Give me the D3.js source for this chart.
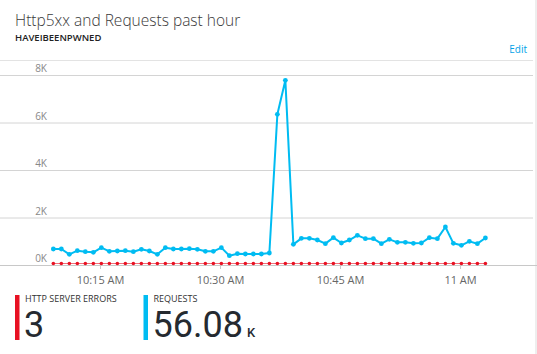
<!DOCTYPE html>
<html>
<head>
<meta charset="utf-8">
<script src="https://cdn.jsdelivr.net/npm/d3@7"></script>
<style>
  body { margin: 0; background: #fff; }
  svg { display: block; font-family: "Open Sans", "Noto Sans", sans-serif; }
</style>
</head>
<body>
<div id="chart"></div>
<script>
// requests per minute, from 10:09 to 11:03
const requests = [674, 674, 450, 603, 561, 533, 730, 575, 590, 603, 561, 660, 590, 450,
  730, 674, 674, 688, 660, 575, 575, 730, 393, 477, 463, 463, 463, 505,
  6343, 7775,
  870, 1122, 1122, 1052, 898, 1151, 926, 1052, 1249, 1108, 1108, 898, 1080, 954,
  954, 912, 926, 1151, 1108, 1600, 912, 828, 996, 898, 1137];
// http 5xx per minute
const errors = [0, 0, 0, 0, 0, 0, 0, 0, 0, 0, 0, 0, 0, 0, 0, 0, 0, 0, 0, 0, 0, 0, 1, 0, 0, 0, 0, 0,
  1, 1, 0, 0, 0, 0, 0, 0, 0, 0, 0, 0, 0, 0, 0, 0, 0, 0, 0, 0, 0, 0, 0, 0, 0, 0, 0];
const yTicks = [0, 2000, 4000, 6000, 8000];
const xTickLabels = ["10:15 AM", "10:30 AM", "10:45 AM", "11 AM"];
const summary = [
  { label: "HTTP SERVER ERRORS", value: "3", unit: "", color: "#e81123" },
  { label: "REQUESTS", value: "56.08", unit: "K", color: "#00bcf2" }
];

const W = 537, H = 354;
const start = new Date(2017, 0, 1, 10, 9, 10);
const times = requests.map((d, i) => d3.timeMinute.offset(start, i));

const svg = d3.select("#chart").append("svg")
    .attr("width", W)
    .attr("height", H);

// card right border
svg.append("rect").attr("x", 535).attr("y", 0).attr("width", 2).attr("height", H).attr("fill", "#eeeeee");

// header
svg.append("text").attr("x", 15).attr("y", 26)
    .style("font-size", "15.5px").style("font-weight", 300).attr("fill", "#3a3a3a")
    .text("Http5xx and Requests past hour");
svg.append("text").attr("x", 15).attr("y", 41)
    .style("font-size", "9.5px").style("font-weight", 600).attr("fill", "#222")
    .text("HAVEIBEENPWNED");
svg.append("text").attr("x", 527).attr("y", 53).attr("text-anchor", "end")
    .style("font-size", "10px").attr("fill", "#00a2e8")
    .text("Edit");
svg.append("line").attr("x1", 0).attr("x2", 533).attr("y1", 60.5).attr("y2", 60.5)
    .attr("stroke", "#e3e3e3");

// scales
const x = d3.scaleTime()
    .domain([new Date(2017, 0, 1, 10, 2, 30), new Date(2017, 0, 1, 11, 9, 7)])
    .range([0, 533]);
const y = d3.scaleLinear().domain([0, 8000]).range([265, 75]);

// grid + y labels
const grid = svg.append("g");
grid.selectAll("line").data(yTicks.slice(1)).enter().append("line")
    .attr("x1", 0).attr("x2", 533)
    .attr("y1", d => y(d) + 0.5).attr("y2", d => y(d) + 0.5)
    .attr("stroke", "#d4d4d4");
grid.selectAll("text").data(yTicks).enter().append("text")
    .attr("x", 47).attr("y", d => y(d) - 3)
    .attr("text-anchor", "end")
    .style("font-size", "10px").attr("fill", "#888")
    .text(d => (d / 1000) + "K");

// x axis
const xTickTimes = [[10, 15], [10, 30], [10, 45], [11, 0]].map(t => new Date(2017, 0, 1, t[0], t[1]));
const xAxis = svg.append("g").attr("transform", "translate(0,265)")
    .call(d3.axisBottom(x).tickValues(xTickTimes).tickSize(4).tickPadding(7)
        .tickFormat((d, i) => xTickLabels[i]));
xAxis.select(".domain").attr("d", "M0,0.5H537").attr("stroke", "#c8c8c8");
xAxis.selectAll(".tick line").attr("stroke", "#c8c8c8");
xAxis.selectAll(".tick text").attr("fill", "#666").style("font-size", "11px")
    .style("font-family", "\"Open Sans\", sans-serif");

// series
const line = d3.line().x((d, i) => x(times[i])).y(d => y(d));

const errG = svg.append("g").attr("transform", "translate(0,-1.5)");
errG.append("path").datum(errors)
    .attr("fill", "none").attr("stroke", "#e81123").attr("stroke-width", 1)
    .attr("stroke-opacity", 0.6)
    .attr("d", line);
errG.selectAll("circle").data(errors).enter().append("circle")
    .attr("cx", (d, i) => x(times[i])).attr("cy", d => y(d))
    .attr("r", 1.8).attr("fill", "#e81123");

const reqG = svg.append("g");
reqG.append("path").datum(requests)
    .attr("fill", "none").attr("stroke", "#00bcf2").attr("stroke-width", 2)
    .attr("stroke-linejoin", "round")
    .attr("d", line);
reqG.selectAll("circle").data(requests).enter().append("circle")
    .attr("cx", (d, i) => x(times[i])).attr("cy", d => y(d))
    .attr("r", 2.4).attr("fill", "#00bcf2");

// summary tiles
const tiles = svg.selectAll(".tile").data(summary).enter().append("g")
    .attr("class", "tile")
    .attr("transform", (d, i) => `translate(${15 + i * 128.5},295)`);
tiles.append("rect").attr("width", 4.5).attr("height", 45).attr("fill", d => d.color);
tiles.append("text").attr("x", 10).attr("y", 7)
    .style("font-size", "9px").attr("fill", "#333")
    .text(d => d.label);
const big = tiles.append("text").attr("x", 9).attr("y", 42)
    .style("font-family", "Roboto, sans-serif")
    .attr("fill", "#252a30");
big.append("tspan").style("font-size", "36px").text(d => d.value);
big.append("tspan").attr("dx", 4).style("font-size", "13px").style("font-weight", 500).text(d => d.unit);
</script>
</body>
</html>
